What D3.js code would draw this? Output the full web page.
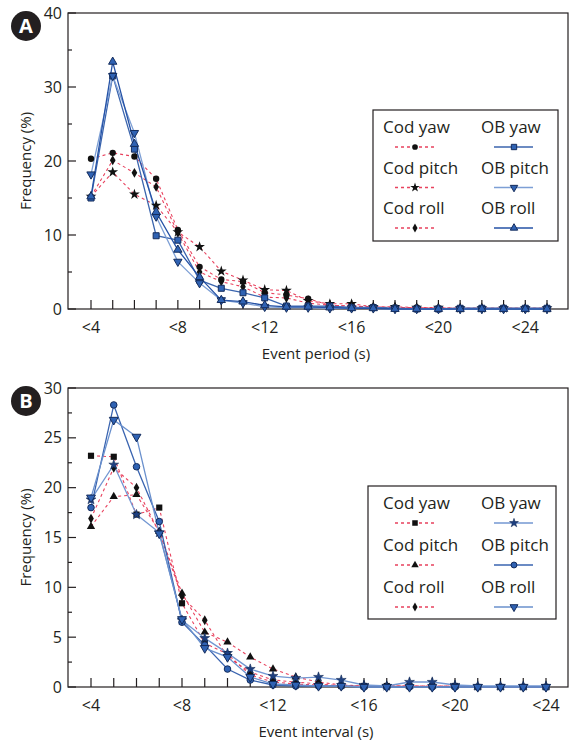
<!DOCTYPE html>
<html><head><meta charset="utf-8">
<script src="https://cdn.jsdelivr.net/npm/d3@7"></script>
<style>body{margin:0;background:#fff}svg{display:block}text{font-family:"Open Sans","Noto Sans",sans-serif;fill:#231f20}</style>
</head><body>
<script>
// ---------- data ----------
const catsA = d3.range(4, 26);            // <4 ... <25
const catsB = d3.range(4, 25);            // <4 ... <24
const tickLabelsA = ["<4","<8","<12","<16","<20","<24"];
const tickLabelsB = ["<4","<8","<12","<16","<20","<24"];
const yTicksA = [0,10,20,30,40];
const yTicksB = [0,5,10,15,20,25,30];

const codYawA   = [20.3,21.1,20.6,17.6,10.7,5.7,4.0,3.7,2.2,1.9,1.4,0.5,0.4,0.3,0.2,0.2,0.1,0.1,0.1,0.1,0.1,0.1];
const codPitchA = [15.2,18.5,15.5,14.0,10.4,8.4,5.1,3.9,2.6,2.5,1.1,0.7,0.7,0.3,0.3,0.2,0.2,0.1,0.1,0.1,0.1,0.1];
const codRollA  = [15.2,20.1,18.4,16.5,10.3,5.0,3.7,3.0,1.6,1.5,0.8,0.5,0.4,0.2,0.2,0.1,0.1,0.1,0.1,0.1,0.1,0.1];
const obYawA    = [15.0,31.5,21.6,9.9,9.3,3.9,2.8,2.2,1.5,0.4,0.4,0.4,0.2,0.2,0.1,0.0,0.0,0.1,0.1,0.1,0.1,0.1];
const obPitchA  = [18.2,31.5,23.8,12.5,6.4,3.5,1.2,0.8,0.3,0.2,0.2,0.1,0.1,0.1,0.0,0.0,0.0,0.0,0.0,0.0,0.0,0.0];
const obRollA   = [15.2,33.4,22.3,13.1,8.0,4.3,1.2,1.0,0.5,0.3,0.3,0.2,0.1,0.1,0.0,0.0,0.0,0.0,0.0,0.0,0.0,0.0];

const codYawB   = [23.2,23.1,17.3,18.0,8.4,4.4,3.3,1.2,0.5,0.3,0.2,0.1,0.1,0.1,0.1,0.1,0.1,0.0,0.0,0.0,0.0];
const codPitchB = [16.1,19.1,19.3,15.6,9.4,5.5,4.5,3.0,1.8,1.0,0.5,0.2,0.1,0.1,0.1,0.1,0.1,0.0,0.0,0.0,0.0];
const codRollB  = [16.9,22.0,20.0,15.5,9.1,6.7,3.0,1.5,0.7,0.5,0.3,0.1,0.1,0.1,0.1,0.0,0.0,0.0,0.0,0.0,0.0];
const obYawB    = [18.8,22.3,17.3,15.5,6.7,4.9,3.4,1.8,1.1,0.9,1.0,0.7,0.2,0.1,0.5,0.5,0.2,0.1,0.1,0.1,0.1];
const obPitchB  = [18.0,28.3,22.1,16.6,6.5,4.2,1.8,0.7,0.2,0.1,0.1,0.1,0.0,0.0,0.0,0.0,0.0,0.0,0.0,0.0,0.0];
const obRollB   = [19.0,26.8,25.1,15.4,6.8,3.9,3.0,1.0,0.3,0.2,0.1,0.1,0.0,0.0,0.0,0.0,0.0,0.0,0.0,0.0,0.0];

const RED = "#e8425e";
const panels = [
  {badge:"A", cats:catsA, yMax:40, yTicks:yTicksA, yMinorStep:5, tickLabels:tickLabelsA, xTitle:"Event period (s)",
   top:13, bottom:309, x0:91, x1:547, legend:{x:373,y:110,w:185,h:131,row0:133,step:40.5},
   series:[
    {name:"Cod yaw",  vals:codYawA,   kind:"cod", sym:d3.symbolCircle,   size:32},
    {name:"Cod pitch",vals:codPitchA, kind:"cod", sym:d3.symbolStar,     size:36},
    {name:"Cod roll", vals:codRollA,  kind:"cod", sym:d3.symbolDiamond,  size:28},
    {name:"OB yaw",   vals:obYawA,    kind:"ob", color:"#3b65ae", sym:d3.symbolSquare,   size:36},
    {name:"OB pitch", vals:obPitchA,  kind:"ob", color:"#7d9fd5", sym:"down",            size:30},
    {name:"OB roll",  vals:obRollA,   kind:"ob", color:"#2552a6", sym:d3.symbolTriangle, size:30}
   ]},
  {badge:"B", cats:catsB, yMax:30, yTicks:yTicksB, yMinorStep:2.5, tickLabels:tickLabelsB, xTitle:"Event interval (s)",
   top:388, bottom:687, x0:91, x1:546, legend:{x:368,y:486,w:188,h:133,row0:509,step:42},
   series:[
    {name:"Cod yaw",  vals:codYawB,   kind:"cod", sym:d3.symbolSquare,   size:38},
    {name:"Cod pitch",vals:codPitchB, kind:"cod", sym:d3.symbolTriangle, size:30},
    {name:"Cod roll", vals:codRollB,  kind:"cod", sym:d3.symbolDiamond,  size:28},
    {name:"OB yaw",   vals:obYawB,    kind:"ob", color:"#7397d2", sym:d3.symbolStar,   size:30, dark:true},
    {name:"OB pitch", vals:obPitchB,  kind:"ob", color:"#3a64b0", sym:d3.symbolCircle, size:34},
    {name:"OB roll",  vals:obRollB,   kind:"ob", color:"#6a90cd", sym:"down",          size:34}
   ]}
];

const svg = d3.select("body").append("svg").attr("width",569).attr("height",742);
const L = 68, R = 568;

function symPath(sym, size){
  if (sym === "down") return d3.symbol(d3.symbolTriangle, size)();
  return d3.symbol(sym, size)();
}
function drawMarker(g, s, cx, cy){
  const p = g.append("path").attr("d", symPath(s.sym, s.size))
    .attr("transform", `translate(${cx},${cy})` + (s.sym==="down" ? " rotate(180)" : ""));
  if (s.kind==="cod") p.attr("fill","#111");
  else if (s.dark) p.attr("fill","#1d3f80").attr("stroke","#132a55").attr("stroke-width",0.6);
  else p.attr("fill","#2f62b3").attr("stroke","#142c5c").attr("stroke-width",1);
}

panels.forEach(P => {
  const x = d3.scaleLinear().domain([P.cats[0], P.cats[P.cats.length-1]]).range([P.x0, P.x1]);
  const y = d3.scaleLinear().domain([0, P.yMax]).range([P.bottom, P.top]);
  const g = svg.append("g");

  // frame
  g.append("rect").attr("x",L).attr("y",P.top).attr("width",R-L).attr("height",P.bottom-P.top)
    .attr("fill","none").attr("stroke","#231f20").attr("stroke-width",1.2);

  // y ticks (inward)
  const yMinor = d3.range(0, P.yMax+0.001, P.yMinorStep);
  g.append("g").selectAll("line").data(yMinor).join("line")
    .attr("x1",L).attr("x2",d => (P.yTicks.includes(d) ? L+8 : L+4))
    .attr("y1",d=>y(d)).attr("y2",d=>y(d)).attr("stroke","#231f20").attr("stroke-width",1.2);
  g.append("g").selectAll("text").data(P.yTicks).join("text")
    .attr("x",L-6).attr("y",d=>y(d)).attr("dy","0.35em").attr("text-anchor","end")
    .attr("font-size",16).text(d=>d);

  // x ticks (inward)
  g.append("g").selectAll("line").data(P.cats).join("line")
    .attr("x1",d=>x(d)).attr("x2",d=>x(d)).attr("y1",P.bottom).attr("y2",P.bottom-9)
    .attr("stroke","#231f20").attr("stroke-width",1.2);
  const labeled = P.cats.filter(c => (c-4)%4===0);
  g.append("g").selectAll("text").data(labeled).join("text")
    .attr("x",d=>x(d)).attr("y",P.bottom+24).attr("text-anchor","middle")
    .attr("font-size",16).text((d,i)=>P.tickLabels[i]);

  // titles
  g.append("text").attr("x",316).attr("y",P.bottom+50).attr("text-anchor","middle")
    .attr("font-size",15).text(P.xTitle);
  g.append("text").attr("transform",`translate(31,${(P.top+P.bottom)/2}) rotate(-90)`)
    .attr("text-anchor","middle").attr("font-size",15).text("Frequency (%)");

  // badge
  g.append("circle").attr("cx",26).attr("cy",P.top+13).attr("r",15).attr("fill","#231f20");
  g.append("text").attr("x",26).attr("y",P.top+13).attr("dy","0.36em").attr("text-anchor","middle")
    .attr("font-size",20).attr("font-weight","bold").style("fill","#fff").text(P.badge);

  // series
  const line = d3.line().x((d,i)=>x(P.cats[i])).y(d=>y(d));
  const order = [0,1,2,3,4,5];
  order.forEach(k => {
    const s = P.series[k];
    g.append("path").attr("d", line(s.vals)).attr("fill","none")
      .attr("stroke", s.kind==="cod" ? RED : s.color).attr("stroke-width", s.kind==="cod" ? 1.1 : 1.3)
      .attr("stroke-dasharray", s.kind==="cod" ? "3,3" : null);
  });
  order.forEach(k => {
    const s = P.series[k];
    s.vals.forEach((v,i) => drawMarker(g, s, x(P.cats[i]), y(v)));
  });

  // legend
  const Lg = P.legend;
  const lg = g.append("g");
  lg.append("rect").attr("x",Lg.x).attr("y",Lg.y).attr("width",Lg.w).attr("height",Lg.h)
    .attr("fill","#fff").attr("stroke","#231f20").attr("stroke-width",1.2);
  P.series.forEach((s,i) => {
    const col = s.kind==="cod" ? 0 : 1;
    const row = i % 3;
    const tx = col===0 ? 383 : 481;
    const ty = Lg.row0 + row*Lg.step;
    lg.append("text").attr("x",tx).attr("y",ty).attr("font-size",17).text(s.name);
    const ly = ty + 14;
    const lx0 = col===0 ? 395 : 494;
    lg.append("line").attr("x1",lx0).attr("x2",lx0+39).attr("y1",ly).attr("y2",ly)
      .attr("stroke", s.kind==="cod" ? RED : s.color).attr("stroke-width",1.3)
      .attr("stroke-dasharray", s.kind==="cod" ? "3,3" : null);
    drawMarker(lg, Object.assign({}, s, {size: s.size*0.8}), lx0+20, ly);
  });
});
</script>
</body></html>
